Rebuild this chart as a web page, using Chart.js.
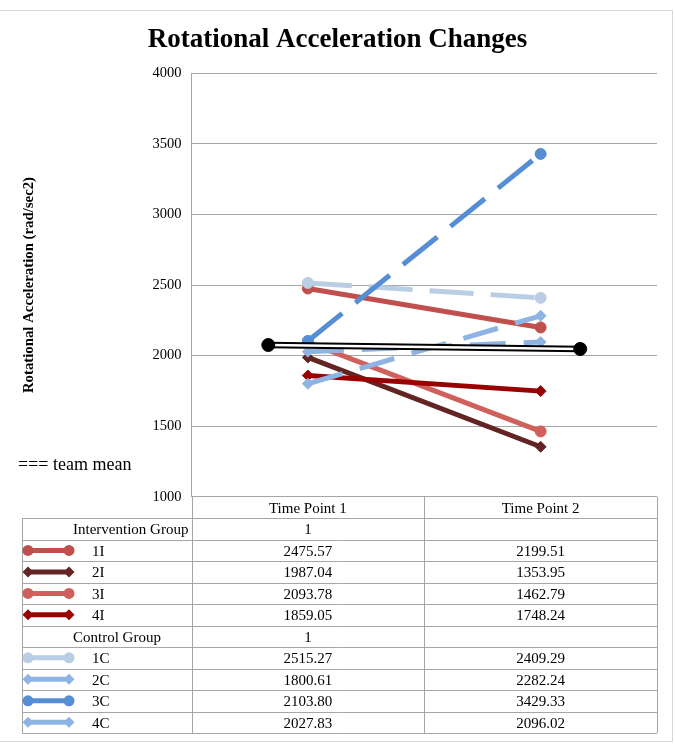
<!DOCTYPE html>
<html>
<head>
<meta charset="utf-8">
<script src="https://cdn.jsdelivr.net/npm/chart.js@4.4.1/dist/chart.umd.min.js"></script>
<style>
  html, body { margin: 0; padding: 0; background: #fff; }
  #wrap { position: relative; width: 675px; height: 746px; }
</style>
</head>
<body>
<div id="wrap"><canvas id="chart" width="675" height="746"></canvas></div>
<script>
// data
const timePoints = ['Time Point 1', 'Time Point 2'];
const timeX = [1, 2];
const yTicks = [1000, 1500, 2000, 2500, 3000, 3500, 4000];

const interventionGroup = [1, null];
const s1I = [2475.57, 2199.51];
const s2I = [1987.04, 1353.95];
const s3I = [2093.78, 1462.79];
const s4I = [1859.05, 1748.24];
const controlGroup = [1, null];
const s1C = [2515.27, 2409.29];
const s2C = [1800.61, 2282.24];
const s3C = [2103.80, 3429.33];
const s4C = [2027.83, 2096.02];

const teamMean = [2075, 2047];
const teamMeanX = [0.83, 2.17];

const SERIF = "'Liberation Serif', 'Times New Roman', serif";
const GRID = '#A6A6A6';

// looks per series
const looks = {
    '1I': { color: '#C0504D', dash: [], point: 'circle' },
    '2I': { color: '#632523', dash: [], point: 'rectRot' },
    '3I': { color: '#D0605C', dash: [], point: 'circle' },
    '4I': { color: '#990000', dash: [], point: 'rectRot' },
    '1C': { color: '#B9CDE5', dash: [44, 17], point: 'circle' },
    '2C': { color: '#8EB4E3', dash: [36, 18], point: 'rectRot' },
    '3C': { color: '#558ED5', dash: [44, 17], point: 'circle' },
    '4C': { color: '#8EB4E3', dash: [36, 18], point: 'rectRot' }
};

const tableRows = [
    { name: 'Intervention Group', values: interventionGroup, group: true },
    { name: '1I', values: s1I },
    { name: '2I', values: s2I },
    { name: '3I', values: s3I },
    { name: '4I', values: s4I },
    { name: 'Control Group', values: controlGroup, group: true },
    { name: '1C', values: s1C },
    { name: '2C', values: s2C },
    { name: '3C', values: s3C },
    { name: '4C', values: s4C }
];

const toPoints = (xs, ys) => ys.map((v, i) => ({ x: xs[i], y: v }));

const datasets = [];
tableRows.filter(r => !r.group).forEach(r => {
    const lk = looks[r.name];
    datasets.push({
        label: r.name,
        data: toPoints(timeX, r.values),
        borderColor: lk.color,
        backgroundColor: lk.color,
        borderWidth: 5,
        borderDash: lk.dash,
        borderCapStyle: 'butt',
        pointStyle: lk.point,
        pointRadius: 5.5,
        pointBorderWidth: 1,
        pointBorderColor: lk.color,
        pointBackgroundColor: lk.color,
        tension: 0
    });
});

// team mean: black double line with solid dots
datasets.push({
    label: 'team mean outer',
    data: toPoints(teamMeanX, teamMean),
    borderColor: '#000',
    borderWidth: 6.5,
    pointRadius: 0
});
datasets.push({
    label: 'team mean inner',
    data: toPoints(teamMeanX, teamMean),
    borderColor: '#fff',
    borderWidth: 2.5,
    pointRadius: 0
});
datasets.push({
    label: 'team mean',
    data: toPoints(teamMeanX, teamMean),
    showLine: false,
    pointRadius: 6.5,
    pointBackgroundColor: '#000',
    pointBorderColor: '#000'
});
datasets.forEach((d, i) => d.order = datasets.length - i);

function drawMarker(ctx, style, x, y, r) {
    ctx.beginPath();
    if (style === 'circle') {
        ctx.arc(x, y, r, 0, Math.PI * 2);
    } else {
        ctx.moveTo(x, y - r);
        ctx.lineTo(x + r, y);
        ctx.lineTo(x, y + r);
        ctx.lineTo(x - r, y);
        ctx.closePath();
    }
    ctx.fill();
}

const frame = {
    id: 'frame',
    beforeDraw(chart) {
        const ctx = chart.ctx;
        ctx.save();
        ctx.fillStyle = '#fff';
        ctx.fillRect(0, 0, chart.width, chart.height);
        ctx.strokeStyle = '#D9D9D9';
        ctx.lineWidth = 1;
        ctx.strokeRect(-5, 10.5, 677.5, 731);
        ctx.restore();
    }
};

const dataTable = {
    id: 'dataTable',
    afterDraw(chart) {
        const { ctx, chartArea: a, scales: { x } } = chart;
        const rowH = (733 - 518.2) / tableRows.length;
        const top = 518.2;
        const left = 22;
        const midX = x.getPixelForValue(1.5);
        ctx.save();
        ctx.strokeStyle = GRID;
        ctx.lineWidth = 1;
        ctx.beginPath();
        for (let k = 0; k <= tableRows.length; k++) {
            const y = Math.round(top + k * rowH) + 0.5;
            ctx.moveTo(left, y);
            ctx.lineTo(a.right, y);
        }
        [a.left, midX, a.right].forEach(px => {
            const xx = Math.round(px) + 0.5;
            ctx.moveTo(xx, a.bottom);
            ctx.lineTo(xx, top + tableRows.length * rowH);
        });
        const lx = Math.round(left) + 0.5;
        ctx.moveTo(lx, top);
        ctx.lineTo(lx, top + tableRows.length * rowH);
        ctx.stroke();

        ctx.fillStyle = '#000';
        ctx.font = '15px ' + SERIF;
        ctx.textBaseline = 'middle';
        tableRows.forEach((r, k) => {
            const cy = top + k * rowH + rowH / 2;
            const ty = cy + 1.5;
            ctx.textAlign = 'left';
            ctx.fillStyle = '#000';
            if (r.group) {
                ctx.fillText(r.name, 73, ty);
            } else {
                ctx.fillText(r.name, 92, ty);
                const lk = looks[r.name];
                ctx.strokeStyle = lk.color;
                ctx.fillStyle = lk.color;
                ctx.lineWidth = 5;
                ctx.beginPath();
                ctx.moveTo(28, cy);
                ctx.lineTo(69, cy);
                ctx.stroke();
                drawMarker(ctx, lk.point, 28, cy, 5.5);
                drawMarker(ctx, lk.point, 69, cy, 5.5);
                ctx.fillStyle = '#000';
            }
            ctx.textAlign = 'center';
            r.values.forEach((v, i) => {
                if (v === null) return;
                const txt = r.group ? String(v) : v.toFixed(2);
                ctx.fillText(txt, x.getPixelForValue(timeX[i]), ty);
            });
        });

        ctx.font = '18px ' + SERIF;
        ctx.textAlign = 'left';
        ctx.fillText('=== team mean', 18, 465);
        ctx.restore();
    }
};

new Chart(document.getElementById('chart'), {
    type: 'line',
    data: { datasets },
    options: {
        responsive: false,
        animation: false,
        devicePixelRatio: 1,
        layout: { padding: { top: 0, right: 18, bottom: 0, left: 18 } },
        plugins: {
            legend: { display: false },
            tooltip: { enabled: false },
            title: {
                display: true,
                text: 'Rotational Acceleration Changes',
                color: '#000',
                font: { family: SERIF, size: 27, weight: 'bold' },
                padding: { top: 24, bottom: 17 }
            }
        },
        scales: {
            x: {
                type: 'linear',
                min: 0.5,
                max: 2.5,
                afterBuildTicks: s => { s.ticks = timeX.map(v => ({ value: v })); },
                afterFit: s => { s.height = 249.3; },
                grid: { display: false, drawTicks: false },
                border: { display: false },
                ticks: {
                    padding: 3,
                    color: '#000',
                    font: { family: SERIF, size: 15 },
                    maxRotation: 0,
                    autoSkip: false,
                    callback: v => timePoints[timeX.indexOf(v)]
                }
            },
            y: {
                min: yTicks[0],
                max: yTicks[yTicks.length - 1],
                afterBuildTicks: s => { s.ticks = yTicks.map(v => ({ value: v })); },
                afterFit: s => { s.width = 173.5; },
                grid: { color: GRID, drawTicks: false },
                border: { color: GRID },
                ticks: {
                    padding: 10,
                    color: '#000',
                    font: { family: SERIF, size: 14.5 },
                    callback: v => String(v)
                },
                title: {
                    display: true,
                    text: 'Rotational Acceleration (rad/sec2)',
                    color: '#000',
                    font: { family: SERIF, size: 14.8, weight: 'bold' },
                    padding: { top: 2, bottom: 0 }
                }
            }
        }
    },
    plugins: [frame, dataTable]
});
</script>
</body>
</html>
